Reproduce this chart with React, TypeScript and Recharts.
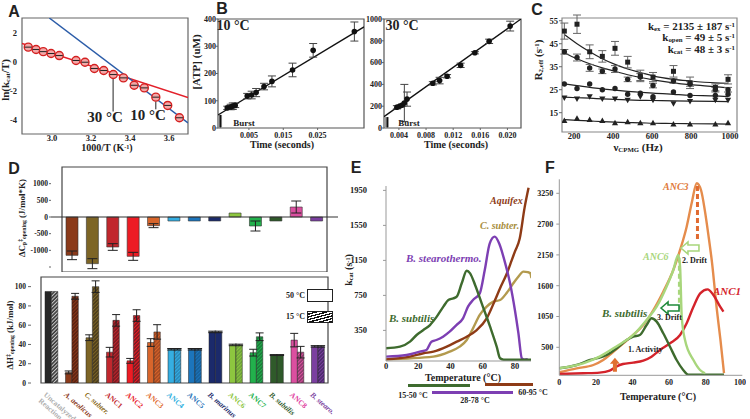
import React from "react";
import {
  ComposedChart,
  BarChart,
  Bar,
  Line,
  Scatter,
  XAxis,
  YAxis,
  ErrorBar,
  ReferenceArea,
  ReferenceLine,
  ReferenceDot,
  Cell,
} from "recharts";

const SERIF = "'Liberation Serif', 'Times New Roman', serif";
const SANS = "'Liberation Sans Narrow', 'Liberation Sans', Arial, sans-serif";

// ---- A: Eyring plot
const eyringInvT = [2.878, 2.918, 2.955, 2.995, 3.037, 3.123, 3.169, 3.217, 3.265, 3.314, 3.366, 3.421, 3.473, 3.532, 3.593, 3.653];
const eyringLnK = [0.99, 0.83, 0.68, 0.55, 0.41, 0.07, -0.05, -0.48, -0.62, -0.9, -1.13, -1.64, -1.82, -2.46, -3.03, -3.88];
const redFitInvT = [2.846, 3.697];
const redFitLnK = [1.24, -2.48];
const blueFitInvT = [2.986, 3.697];
const blueFitLnK = [3.0, -4.23];

// ---- B: burst kinetics
const b10Time = [-0.0013, -0.0003, 0.0003, 0.001, 0.0045, 0.0058, 0.0071, 0.0094, 0.0117, 0.0177, 0.0237, 0.0357];
const b10Atp = [74, 77, 80, 83, 117, 121, 130, 152, 171, 213, 285, 354];
const b10Err = [6, 10, 12, 8, 10, 14, 15, 12, 20, 25, 25, 35];
const b10FitTime = [-0.004, 0.0385];
const b10FitAtp = [48, 371];

const b30Time = [0.0037, 0.0041, 0.0045, 0.0048, 0.0052, 0.009, 0.01, 0.0111, 0.0131, 0.0152, 0.0173, 0.0204];
const b30Atp = [190, 200, 210, 230, 265, 410, 435, 475, 575, 690, 795, 935];
const b30Err = [15, 10, 10, 170, 65, 15, 30, 15, 20, 10, 20, 45];
const b30FitTime = [0.0018, 0.022];
const b30FitAtp = [104, 1000];

// ---- C: relaxation dispersion
const cFreq = [150, 215, 280, 345, 410, 475, 540, 605, 710, 795, 925, 990];
const cSquare = [50.5, 53.5, 41.5, 39.5, 43, 37, 31, 30.5, 33, 28, 26, 29.5];
const cSquareErr = [3.5, 4, 3, 2.5, 3, 2.5, 2.5, 2, 2.5, 2.5, 1.5, 2];
const cCircle = [41.5, 39, 34.5, 33, 34, 29.5, 30.5, 26.8, 28.8, 27.5, 25, 25];
const cCircleErr = [1, 1.5, 1.5, 1, 1.5, 1, 1.5, 1, 1, 1, 1, 1];
const cDot = [27.5, 25.5, 27.5, 25, 25.5, 23, 23.5, 22, 24, 22.5, 22.5, 23];
const cDown = [21.5, 21, 22, 21, 21, 20.5, 22, 20.5, 19, 20, 20.5, 20.5];
const cUp = [11.5, 12.5, 12, 11.5, 10.5, 11, 10.5, 10.5, 10, 10, 10, 10.5];
const cFitSquare = [49, 45, 41.5, 38.5, 36, 34, 32.5, 31, 29.5, 28.8, 28, 27.8];
const cFitCircle = [41, 38.5, 36.3, 34.5, 33, 31.5, 30.3, 29.3, 28, 27.2, 26.3, 25.8];
const cFitDot = [27.5, 26.8, 26, 25.4, 24.8, 24.3, 23.9, 23.5, 23, 22.6, 22.3, 22];
const cFitDown = [21.8, 21.5, 21.3, 21, 20.8, 20.6, 20.4, 20.3, 20.1, 20, 19.9, 19.8];
const cFitUp = [12, 11.7, 11.4, 11.1, 10.9, 10.7, 10.6, 10.4, 10.3, 10.2, 10.1, 10];

// ---- D: activation parameters
const dNames = ["Uncatalyzed Reaction", "A. aeolicus", "C. subter.", "ANC1", "ANC2", "ANC3", "ANC4", "ANC5", "B. marinus", "ANC6", "ANC7", "B. subtilis", "ANC8", "B. stearo."];
const dCp = [0, -1150, -1400, -900, -1180, -260, -20, -20, -20, 20, -270, -20, 300, -20];
const dCpErr = [0, 130, 150, 100, 120, 60, 0, 0, 0, 0, 150, 0, 180, 0];
const dH50 = [95, 11, 47, 32, 23, 42, 35, 35, 53, 39.5, 31.5, 29, 44.5, 38];
const dH50Err = [0, 1.5, 3, 5, 2.5, 4, 0.8, 0.8, 0.8, 0.8, 3.5, 0.5, 7, 0.8];
const dH15 = [95, 90, 100, 65, 70, 53, 35, 35, 53, 39.5, 48, 29, 32, 38];
const dH15Err = [0, 3, 6, 6, 6, 7.5, 0.8, 0.8, 0.8, 0.8, 4, 0.5, 6, 0.8];
const dColors = ["#262626", "#8b3a1a", "#7d6526", "#c1272d", "#ed1c24", "#d8652b", "#35aee2", "#1c75bc", "#1b2a6b", "#8dc63f", "#22b14c", "#2f5a2a", "#db4fa0", "#7b3fa0"];
const dHatchBase = ["#3a3a3a", "#5a2212", "#4a3c1c", "#7a1a22", "#7a1a22", "#a64a22", "#2a88b8", "#17609a", "#1b2a6b", "#6ea23a", "#1a7a3a", "#2f5a2a", "#8a3a6a", "#4a2a6a"];
const dLabelColors = ["#b0b0b0", "#8b3a1a", "#8a6a20", "#c1272d", "#e8202a", "#e06a30", "#30b0e0", "#1f74b8", "#1b2a6b", "#8dc63f", "#22b14c", "#2f5a2a", "#e040a0", "#7b3fa0"];

// ---- E: kcat vs temperature, extant enzymes
const eSubT = [0, 8.7, 14.9, 19, 23.2, 27.3, 31.5, 35.6, 38.7, 41.8, 43.9, 47, 50.1, 52.2, 55.3, 59.4, 64.6, 68.7, 70.8, 73, 80, 90];
const eSubV = [145, 164, 221, 297, 354, 411, 507, 621, 697, 716, 735, 888, 1032, 1002, 869, 659, 392, 164, 31, 15, 15, 15];
const eSteT = [0, 12.8, 21, 25.1, 28.2, 31.3, 35.4, 39.5, 43.7, 47.8, 50.9, 54, 58.2, 61.3, 64.4, 67.5, 70.2, 73.5, 77, 80, 82.2, 84.3, 86, 88];
const eSteV = [50, 69, 107, 126, 221, 240, 278, 335, 411, 488, 621, 697, 773, 1040, 1345, 1421, 1345, 1150, 888, 583, 316, 31, 15, 20];
const eAqT = [0, 14.9, 23.2, 29.4, 37.7, 43.9, 50.1, 56.3, 62.5, 67.7, 70.8, 75, 78, 80, 83, 86, 88.5];
const eAqV = [19, 50, 88, 107, 164, 221, 278, 354, 488, 697, 831, 1000, 1150, 1250, 1400, 1750, 1980];
const eCsT = [0, 29.4, 39.5, 45.7, 50.1, 54, 58.2, 62.5, 66.6, 70.8, 75, 79, 82, 85.3, 88, 89.4, 90.3];
const eCsV = [19, 50, 107, 164, 240, 373, 526, 621, 678, 697, 780, 888, 960, 1021, 1015, 1005, 948];

// ---- F: kcat vs temperature, ancestors
const fAnc3T = [0, 9.5, 18.6, 24, 29.5, 35, 40.4, 45.9, 51.4, 56.8, 62.3, 66, 69.6, 72.5, 75.1, 77.5, 79.5, 81.5, 83.5, 86, 88, 90];
const fAnc3V = [54, 125, 184, 273, 421, 571, 720, 898, 1166, 1493, 1880, 2238, 2654, 3100, 3430, 3300, 2950, 2500, 2000, 1200, 650, 40];
const fAnc6T = [0, 13.1, 22, 31, 40.4, 47.7, 53.2, 58.6, 62.3, 65, 66, 66.9, 68.7, 73.3, 76.9, 79.6];
const fAnc6V = [125, 214, 333, 511, 720, 988, 1225, 1582, 1880, 2148, 1939, 1046, 630, 273, 95, 36];
const fSubT = [0, 9.5, 16.8, 20.4, 25.9, 31.4, 36.8, 40.4, 44, 47.7, 50.4, 53.2, 56.8, 60.5, 64.1, 67.7, 70.5, 80, 90];
const fSubV = [125, 184, 273, 303, 362, 482, 630, 690, 720, 898, 1018, 958, 750, 511, 273, 95, 10, 10, 10];
const fAnc1T = [0, 13.1, 22, 27.5, 31.1, 34.8, 40.4, 45.9, 50.4, 55, 60.5, 66, 69.6, 73.3, 77, 81, 84.2, 87.9, 89.7];
const fAnc1V = [23, 36, 48, 83, 155, 202, 226, 262, 333, 452, 571, 720, 929, 1225, 1464, 1535, 1434, 1225, 1136];

const xy = (xs: number[], ys: number[], es?: number[]) =>
  xs.map((x, i) => ({ x, y: ys[i], err: es ? es[i] : 0 }));
const tv = (ts: number[], vs: number[]) => ts.map((t, i) => ({ t, v: vs[i] }));

const tk = (size: number) => ({ fontSize: size, fontFamily: SERIF, fontWeight: 700, fill: "#222" });

type TxtProps = {
  x: number;
  y: number;
  s?: number;
  c?: string;
  i?: boolean;
  a?: "l" | "c" | "r";
  rot?: number;
  f?: string;
  children: React.ReactNode;
};
const Txt = ({ x, y, s = 10, c = "#222", i = false, a = "c", rot = 0, f = SERIF, children }: TxtProps) => {
  const tx = a === "l" ? "0" : a === "r" ? "-100%" : "-50%";
  return (
    <div
      style={{
        position: "absolute",
        left: x,
        top: y,
        transform: `translate(${tx},-50%) rotate(${rot}deg)`,
        fontSize: s,
        color: c,
        fontStyle: i ? "italic" : "normal",
        fontWeight: 700,
        fontFamily: f,
        whiteSpace: "nowrap",
        lineHeight: 1,
      }}
    >
      {children}
    </div>
  );
};
const Sub = ({ children }: { children: React.ReactNode }) => (
  <sub style={{ fontSize: "0.62em", verticalAlign: "-0.2em", lineHeight: 0 }}>{children}</sub>
);
const Sup = ({ children }: { children: React.ReactNode }) => (
  <sup style={{ fontSize: "0.62em", verticalAlign: "0.4em", lineHeight: 0 }}>{children}</sup>
);
const Box = ({ x, y, w, h, bg, border }: { x: number; y: number; w: number; h: number; bg: string; border?: string }) => (
  <div style={{ position: "absolute", left: x, top: y, width: w, height: h, background: bg, border, boxSizing: "border-box" }} />
);

const ringDot = (p: any) => (
  <g>
    <circle cx={p.cx} cy={p.cy} r={4} fill="#f2a8a8" stroke="#d42020" strokeWidth={1.4} />
    <line x1={p.cx - 3.5} x2={p.cx + 3.5} y1={p.cy} y2={p.cy} stroke="#222" strokeWidth={1} />
  </g>
);
const blackDot = (p: any) => <circle cx={p.cx} cy={p.cy} r={2.8} fill="#111" />;
const squareMark = (p: any) => <rect x={p.cx - 2.5} y={p.cy - 2.5} width={5} height={5} fill="#222" />;
const circleMark = (p: any) => <circle cx={p.cx} cy={p.cy} r={2.7} fill="#222" />;
const upMark = (p: any) => (
  <path d={`M${p.cx},${p.cy - 3.2}L${p.cx + 3.1},${p.cy + 2.3}L${p.cx - 3.1},${p.cy + 2.3}Z`} fill="#222" />
);
const downMark = (p: any) => (
  <path d={`M${p.cx},${p.cy + 3.2}L${p.cx + 3.1},${p.cy - 2.3}L${p.cx - 3.1},${p.cy - 2.3}Z`} fill="#222" />
);
const leftArrow = (color: string) => (p: any) => (
  <path
    d={`M${p.cx - 9},${p.cy}L${p.cx - 2},${p.cy - 6}L${p.cx - 2},${p.cy - 3}L${p.cx + 9},${p.cy - 3}L${p.cx + 9},${p.cy + 3}L${p.cx - 2},${p.cy + 3}L${p.cx - 2},${p.cy + 6}Z`}
    fill="#fff"
    stroke={color}
    strokeWidth={1.6}
  />
);
const upArrow = (p: any) => (
  <path
    d={`M${p.cx},${p.cy - 7}L${p.cx + 5},${p.cy - 1}L${p.cx + 2},${p.cy - 1}L${p.cx + 2},${p.cy + 7}L${p.cx - 2},${p.cy + 7}L${p.cx - 2},${p.cy - 1}L${p.cx - 5},${p.cy - 1}Z`}
    fill="#e07030"
  />
);

const CatTick = (props: any) => {
  const { x, y, payload } = props;
  const name = payload.value as string;
  const i = dNames.indexOf(name);
  const italic = i > 0 && !name.startsWith("ANC");
  return (
    <g transform={`translate(${x - 4},${y})`}>
      <text
        transform="rotate(41)"
        fontSize={7.5}
        fontFamily={SERIF}
        fontWeight={700}
        fontStyle={italic ? "italic" : "normal"}
        fill={dLabelColors[i]}
      >
        {i === 0 ? (
          <>
            <tspan x={0} dy={6}>Uncatalyzed</tspan>
            <tspan x={0} dy={8}>Reaction</tspan>
          </>
        ) : (
          <tspan x={0} dy={6}>{name}</tspan>
        )}
      </text>
    </g>
  );
};

export default function App() {
  const dTop = dNames.slice(1).map((n, k) => ({ name: n, v: dCp[k + 1], e: dCpErr[k + 1] }));
  const dBottom = dNames.map((n, k) => ({ name: n, h50: dH50[k], e50: dH50Err[k], h15: dH15[k], e15: dH15Err[k] }));

  return (
    <div style={{ position: "absolute", left: 0, top: 0, width: 750, height: 419, background: "#fff", overflow: "hidden" }}>
      {/* A */}
      <div style={{ position: "absolute", left: 0, top: 0 }}>
        <ComposedChart width={190} height={150} margin={{ top: 18, right: 2, left: 0, bottom: 0 }}>
          <XAxis type="number" dataKey="x" domain={[2.846, 3.697]} ticks={[3.0, 3.2, 3.4, 3.6]} tickFormatter={(v: number) => v.toFixed(1)} allowDataOverflow height={16} tickLine={false} tickSize={0} axisLine={false} tickMargin={1} tick={tk(8.5)} />
          <YAxis type="number" dataKey="y" domain={[-5, 3]} ticks={[-4, -2, 0, 2]} allowDataOverflow width={22} tickLine={false} tickSize={0} axisLine={false} tickMargin={5} tick={tk(8.5)} />
          <ReferenceArea x1={2.846} x2={3.697} y1={-5} y2={3} fill="none" stroke="#666" strokeWidth={1.2} ifOverflow="visible" />
          <Line data={xy(redFitInvT, redFitLnK)} dataKey="y" type="linear" stroke="#e3202a" strokeWidth={1.5} dot={false} isAnimationActive={false} />
          <Line data={xy(blueFitInvT, blueFitLnK)} dataKey="y" type="linear" stroke="#2b5ca8" strokeWidth={1.5} dot={false} isAnimationActive={false} />
          <ReferenceLine segment={[{ x: 3.313, y: -1.15 }, { x: 3.313, y: -3.45 }]} stroke="#222" strokeWidth={1} />
          <ReferenceLine segment={[{ x: 3.532, y: -2.75 }, { x: 3.532, y: -3.3 }]} stroke="#222" strokeWidth={1} />
          <Scatter data={xy(eyringInvT, eyringLnK)} shape={ringDot} isAnimationActive={false} />
        </ComposedChart>
      </div>

      {/* B, 10 C */}
      <div style={{ position: "absolute", left: 190, top: 0 }}>
        <ComposedChart width={176} height={145} margin={{ top: 19, right: 2, left: 0, bottom: 0 }}>
          <XAxis type="number" dataKey="x" domain={[-0.004, 0.0385]} ticks={[0.005, 0.015, 0.025]} allowDataOverflow height={17} tickSize={2} tickMargin={2} axisLine={false} tick={tk(8)} />
          <YAxis type="number" dataKey="y" domain={[0, 400]} ticks={[0, 100, 200, 300, 400]} allowDataOverflow width={28} tickSize={2} tickMargin={0} axisLine={false} tick={tk(8)} />
          <ReferenceArea x1={-0.004} x2={0.0385} y1={0} y2={400} fill="none" stroke="#555" strokeWidth={1.2} ifOverflow="visible" />
          <ReferenceLine segment={[{ x: -0.0034, y: 2 }, { x: -0.0034, y: 48 }]} stroke="#999" strokeWidth={4} />
          <ReferenceLine segment={[{ x: -0.0033, y: 2 }, { x: -0.0033, y: 48 }]} stroke="#111" strokeWidth={1.6} />
          <Line data={xy(b10FitTime, b10FitAtp)} dataKey="y" type="linear" stroke="#111" strokeWidth={1.3} dot={false} isAnimationActive={false} />
          <Scatter data={xy(b10Time, b10Atp, b10Err)} shape={blackDot} isAnimationActive={false}>
            <ErrorBar dataKey="err" direction="y" width={4} stroke="#444" strokeWidth={1} />
          </Scatter>
        </ComposedChart>
      </div>

      {/* B, 30 C */}
      <div style={{ position: "absolute", left: 350, top: 0 }}>
        <ComposedChart width={173} height={145} margin={{ top: 19, right: 2, left: 0, bottom: 0 }}>
          <XAxis type="number" dataKey="x" domain={[0.0018, 0.022]} ticks={[0.004, 0.008, 0.012, 0.016, 0.02]} tickFormatter={(v: number) => v.toFixed(3)} allowDataOverflow height={17} tickSize={2} tickMargin={2} axisLine={false} tick={tk(8)} />
          <YAxis type="number" dataKey="y" domain={[0, 1000]} ticks={[0, 200, 400, 600, 800, 1000]} allowDataOverflow width={34} tickSize={2} tickMargin={0} axisLine={false} tick={tk(8)} />
          <ReferenceArea x1={0.0018} x2={0.022} y1={0} y2={1000} fill="none" stroke="#555" strokeWidth={1.2} ifOverflow="visible" />
          <ReferenceLine segment={[{ x: 0.0022, y: 5 }, { x: 0.0022, y: 100 }]} stroke="#999" strokeWidth={4} />
          <ReferenceLine segment={[{ x: 0.0023, y: 5 }, { x: 0.0023, y: 100 }]} stroke="#111" strokeWidth={1.6} />
          <Line data={xy(b30FitTime, b30FitAtp)} dataKey="y" type="linear" stroke="#111" strokeWidth={1.3} dot={false} isAnimationActive={false} />
          <Scatter data={xy(b30Time, b30Atp, b30Err)} shape={blackDot} isAnimationActive={false}>
            <ErrorBar dataKey="err" direction="y" width={4} stroke="#444" strokeWidth={1} />
          </Scatter>
        </ComposedChart>
      </div>

      {/* C */}
      <div style={{ position: "absolute", left: 530, top: 0 }}>
        <ComposedChart width={209} height={148} margin={{ top: 18, right: 2, left: 0, bottom: 0 }}>
          <XAxis type="number" dataKey="x" domain={[138, 1036]} ticks={[200, 400, 600, 800, 1000]} allowDataOverflow height={16} tickLine={false} tickSize={0} tickMargin={1} axisLine={false} tick={tk(8.5)} />
          <YAxis type="number" dataKey="y" domain={[6.6, 56.2]} ticks={[10, 15, 20, 25, 30, 35, 40, 45, 50, 55]} allowDataOverflow width={32} tickSize={3} tickMargin={1} axisLine={false} tick={tk(8.5)} />
          <ReferenceArea x1={138} x2={1036} y1={6.6} y2={56.2} fill="none" stroke="#888" strokeWidth={1.2} ifOverflow="visible" />
          {[cFitSquare, cFitCircle, cFitDot, cFitDown, cFitUp].map((f, k) => (
            <Line key={k} data={xy(cFreq, f)} dataKey="y" type="monotone" stroke="#222" strokeWidth={1.2} dot={false} isAnimationActive={false} />
          ))}
          <Scatter data={xy(cFreq, cSquare, cSquareErr)} shape={squareMark} isAnimationActive={false}>
            <ErrorBar dataKey="err" direction="y" width={4} stroke="#666" strokeWidth={1} />
          </Scatter>
          <Scatter data={xy(cFreq, cCircle, cCircleErr)} shape={circleMark} isAnimationActive={false}>
            <ErrorBar dataKey="err" direction="y" width={4} stroke="#666" strokeWidth={1} />
          </Scatter>
          <Scatter data={xy(cFreq, cDot)} shape={circleMark} isAnimationActive={false} />
          <Scatter data={xy(cFreq, cDown)} shape={downMark} isAnimationActive={false} />
          <Scatter data={xy(cFreq, cUp)} shape={upMark} isAnimationActive={false} />
        </ComposedChart>
      </div>

      {/* D top: heat capacity */}
      <div style={{ position: "absolute", left: 20, top: 160 }}>
        <BarChart width={320} height={112} data={dTop} margin={{ top: 7, right: 2, left: 0, bottom: 0 }}>
          <XAxis dataKey="name" hide padding={{ left: 11, right: 11 }} />
          <YAxis domain={[-1650, 1500]} ticks={[-1500, -1000, -500, 0, 500, 1000]} tickFormatter={(v: number) => (v === -1500 ? "" : String(v))} allowDataOverflow width={31} tickSize={2} tickMargin={1} axisLine={false} tick={tk(7.5)} />
          <ReferenceArea y1={-1650} y2={1500} fill="none" stroke="#444" strokeWidth={1.2} ifOverflow="visible" />
          <ReferenceLine y={0} stroke="#333" strokeWidth={1.2} />
          <Bar dataKey="v" barSize={12} minPointSize={4} stroke="#333" strokeWidth={0.6} isAnimationActive={false}>
            {dTop.map((d, k) => (
              <Cell key={k} fill={dColors[k + 1]} />
            ))}
            <ErrorBar dataKey="e" width={5} stroke="#222" strokeWidth={1} />
          </Bar>
        </BarChart>
      </div>

      {/* D bottom: enthalpy */}
      <div style={{ position: "absolute", left: 0, top: 270 }}>
        <BarChart width={340} height={149} data={dBottom} barGap={0} margin={{ top: 7, right: 2, left: 0, bottom: 0 }}>
          <defs>
            {dNames.map((_, k) => (
              <pattern key={k} id={`hatch${k}`} width={2.6} height={2.6} patternUnits="userSpaceOnUse" patternTransform="rotate(45)">
                <rect width={2.6} height={2.6} fill={dHatchBase[k]} />
                <rect width={1} height={2.6} fill={k === 0 ? "#cfcfcf" : dColors[k]} />
              </pattern>
            ))}
          </defs>
          <XAxis dataKey="name" interval={0} height={36} padding={{ left: 10, right: 10 }} tickLine={false} axisLine={false} tick={<CatTick />} />
          <YAxis domain={[0, 110]} ticks={[0, 20, 40, 60, 80, 100]} allowDataOverflow width={31} tickSize={3} tickMargin={2} axisLine={false} tick={tk(7.5)} />
          <ReferenceArea y1={0} y2={110} fill="none" stroke="#444" strokeWidth={1.2} ifOverflow="visible" />
          <Bar dataKey="h50" barSize={6.4} stroke="#222" strokeWidth={0.5} isAnimationActive={false}>
            {dBottom.map((d, k) => (
              <Cell key={k} fill={dColors[k]} />
            ))}
            <ErrorBar dataKey="e50" width={4} stroke="#222" strokeWidth={1} />
          </Bar>
          <Bar dataKey="h15" barSize={6.4} stroke="#222" strokeWidth={0.5} isAnimationActive={false}>
            {dBottom.map((d, k) => (
              <Cell key={k} fill={`url(#hatch${k})`} />
            ))}
            <ErrorBar dataKey="e15" width={4} stroke="#222" strokeWidth={1} />
          </Bar>
        </BarChart>
      </div>

      {/* E */}
      <div style={{ position: "absolute", left: 340, top: 175 }}>
        <ComposedChart width={195} height={200} margin={{ top: 11, right: 4, left: 0, bottom: 0 }}>
          <XAxis type="number" dataKey="t" domain={[0, 90]} ticks={[0, 20, 40, 60, 80]} allowDataOverflow height={14} tickLine={false} tickSize={0} tickMargin={2} axisLine={{ stroke: "#999" }} tick={tk(8.5)} />
          <YAxis type="number" domain={[0, 2000]} ticks={[350, 750, 1150, 1550, 1950]} allowDataOverflow width={46} tickSize={3} tickMargin={16} axisLine={{ stroke: "#999" }} tickLine={{ stroke: "#999" }} tick={tk(8.5)} />
          <Line data={tv(eCsT, eCsV)} dataKey="v" type="monotone" stroke="#b39a4e" strokeWidth={2.4} dot={false} isAnimationActive={false} />
          <Line data={tv(eAqT, eAqV)} dataKey="v" type="monotone" stroke="#8e3b16" strokeWidth={2.4} dot={false} isAnimationActive={false} />
          <Line data={tv(eSteT, eSteV)} dataKey="v" type="monotone" stroke="#7d3fb3" strokeWidth={2.4} dot={false} isAnimationActive={false} />
          <Line data={tv(eSubT, eSubV)} dataKey="v" type="monotone" stroke="#3e6b2e" strokeWidth={2.4} dot={false} isAnimationActive={false} />
        </ComposedChart>
      </div>

      {/* F */}
      <div style={{ position: "absolute", left: 520, top: 170 }}>
        <ComposedChart width={226} height={222} margin={{ top: 9.3, right: 3.7, left: 0, bottom: 0 }}>
          <XAxis type="number" dataKey="t" domain={[0, 100]} ticks={[0, 20, 40, 60, 80, 100]} allowDataOverflow height={16.7} tickLine={false} tickSize={0} tickMargin={4} axisLine={{ stroke: "#999" }} tick={tk(8)} />
          <YAxis type="number" domain={[0, 3500]} ticks={[500, 1050, 1600, 2150, 2700, 3250]} allowDataOverflow width={39.3} tickSize={3} tickMargin={3} axisLine={{ stroke: "#999" }} tickLine={{ stroke: "#999" }} tick={tk(8)} />
          <Line data={tv(fAnc3T, fAnc3V)} dataKey="v" type="monotone" stroke="#e58c4c" strokeWidth={2.4} dot={false} isAnimationActive={false} />
          <Line data={tv(fAnc1T, fAnc1V)} dataKey="v" type="monotone" stroke="#d4232b" strokeWidth={2.4} dot={false} isAnimationActive={false} />
          <Line data={tv(fSubT, fSubV)} dataKey="v" type="monotone" stroke="#3e6b2e" strokeWidth={2.4} dot={false} isAnimationActive={false} />
          <Line data={tv(fAnc6T, fAnc6V)} dataKey="v" type="monotone" stroke="#a8d67c" strokeWidth={2.4} dot={false} isAnimationActive={false} />
          <ReferenceLine segment={[{ x: 75.5, y: 3380 }, { x: 75.5, y: 2380 }]} stroke="#e06a30" strokeWidth={3} strokeDasharray="5 3" ifOverflow="visible" />
          <ReferenceLine segment={[{ x: 65.5, y: 2100 }, { x: 65.5, y: 1180 }]} stroke="#a8d67c" strokeWidth={2.5} strokeDasharray="5 3" ifOverflow="visible" />
          <ReferenceDot x={71.4} y={2273} r={0} shape={leftArrow("#a8d67c")} ifOverflow="visible" />
          <ReferenceDot x={60.5} y={1202} r={0} shape={leftArrow("#1f8a3a")} ifOverflow="visible" />
          <ReferenceDot x={30.4} y={190} r={0} shape={upArrow} ifOverflow="visible" />
        </ComposedChart>
      </div>

      {/* panel letters */}
      <Txt x={14} y={12} s={16} f={SANS}>A</Txt>
      <Txt x={222} y={9} s={16} f={SANS}>B</Txt>
      <Txt x={537} y={10} s={16} f={SANS}>C</Txt>
      <Txt x={14} y={169} s={16} f={SANS}>D</Txt>
      <Txt x={356} y={168} s={16} f={SANS}>E</Txt>
      <Txt x={550} y={168} s={16} f={SANS}>F</Txt>

      {/* A labels */}
      <Txt x={5} y={80} s={11} rot={-90}>ln(k<Sub>cat</Sub>/T)</Txt>
      <Txt x={107} y={148} s={10}>1000/T (K<Sup>-1</Sup>)</Txt>
      <Txt x={105} y={117} s={15}>30 °C</Txt>
      <Txt x={148} y={115} s={15}>10 °C</Txt>

      {/* B labels */}
      <Txt x={196} y={62} s={11} rot={-90}>[ATP] (uM)</Txt>
      <Txt x={233} y={26} s={14}>10 °C</Txt>
      <Txt x={244} y={123} s={9}>Burst</Txt>
      <Txt x={282} y={145} s={10}>Time (seconds)</Txt>
      <Txt x={402} y={26} s={14}>30 °C</Txt>
      <Txt x={409} y={123} s={9}>Burst</Txt>
      <Txt x={456} y={145} s={10}>Time (seconds)</Txt>

      {/* C labels */}
      <Txt x={538} y={60} s={11} rot={-90}>R<Sub>2,eff</Sub> (s<Sup>-1</Sup>)</Txt>
      <Txt x={638} y={147} s={11}>ν<Sub>CPMG</Sub> (Hz)</Txt>
      <Txt x={735} y={25.5} s={11} a="r">k<Sub>ex</Sub> = 2135 ± 187 s<Sup>-1</Sup></Txt>
      <Txt x={735} y={37} s={11} a="r">k<Sub>open</Sub> = 49 ± 5 s<Sup>-1</Sup></Txt>
      <Txt x={735} y={48.5} s={11} a="r">k<Sub>cat</Sub> = 48 ± 3 s<Sup>-1</Sup></Txt>

      {/* D labels */}
      <Txt x={22} y={218} s={9} rot={-90}>ΔC<Sub>p</Sub><Sup>‡</Sup><Sub>opening</Sub> (J/mol*K)</Txt>
      <Txt x={10} y={335} s={9} rot={-90}>ΔH<Sup>‡</Sup><Sub>opening</Sub> (kJ/mol)</Txt>
      <Txt x={305} y={296} s={8} a="r">50 °C</Txt>
      <Txt x={305} y={317} s={8} a="r">15 °C</Txt>
      <Box x={307} y={289} w={26} h={13} bg="#fff" border="1px solid #222" />
      <Box x={307} y={311} w={26} h={12} bg="repeating-linear-gradient(-15deg, #111 0px, #111 1.3px, #fff 1.3px, #fff 2.6px)" border="1px solid #222" />

      {/* E labels */}
      <Txt x={349} y={270} s={10} rot={-90}>k<Sub>cat</Sub> (s<Sup>-1</Sup>)</Txt>
      <Txt x={463} y={378} s={10}>Temperature (°C)</Txt>
      <Txt x={490} y={201} s={10} i c="#8e3b16" a="l">Aquifex</Txt>
      <Txt x={480} y={226} s={10} i c="#a88e40" a="l">C. subter.</Txt>
      <Txt x={406} y={258} s={11} i c="#7d3fb3" a="l">B. stearothermo.</Txt>
      <Txt x={389} y={318} s={11} i c="#3e6b2e" a="l">B. subtilis</Txt>
      <Box x={408} y={384} w={62} h={3} bg="#3e6b2e" />
      <Box x={432} y={390.5} w={81} h={3} bg="#7d3fb3" />
      <Box x={485} y={383} w={48} h={3} bg="#8e3b16" />
      <Txt x={413} y={396} s={8}>15-50 °C</Txt>
      <Txt x={475} y={401} s={8}>28-78 °C</Txt>
      <Txt x={533} y={393} s={8}>60-95 °C</Txt>

      {/* F labels */}
      <Txt x={663} y={187} s={10} i c="#e07a3a" a="l">ANC3</Txt>
      <Txt x={643} y={257} s={10} i c="#a8d67c" a="l">ANC6</Txt>
      <Txt x={682} y={261} s={8} a="l">2. Drift</Txt>
      <Txt x={602} y={313} s={11} i c="#3e6b2e" a="l">B. subtilis</Txt>
      <Txt x={657} y={318} s={8} a="l">3. Drift</Txt>
      <Txt x={628} y={350} s={8} a="l">1. Activity</Txt>
      <Txt x={713} y={291} s={11} i c="#d4232b" a="l">ANC1</Txt>
      <Txt x={658} y={397} s={10}>Temperature (°C)</Txt>
    </div>
  );
}
